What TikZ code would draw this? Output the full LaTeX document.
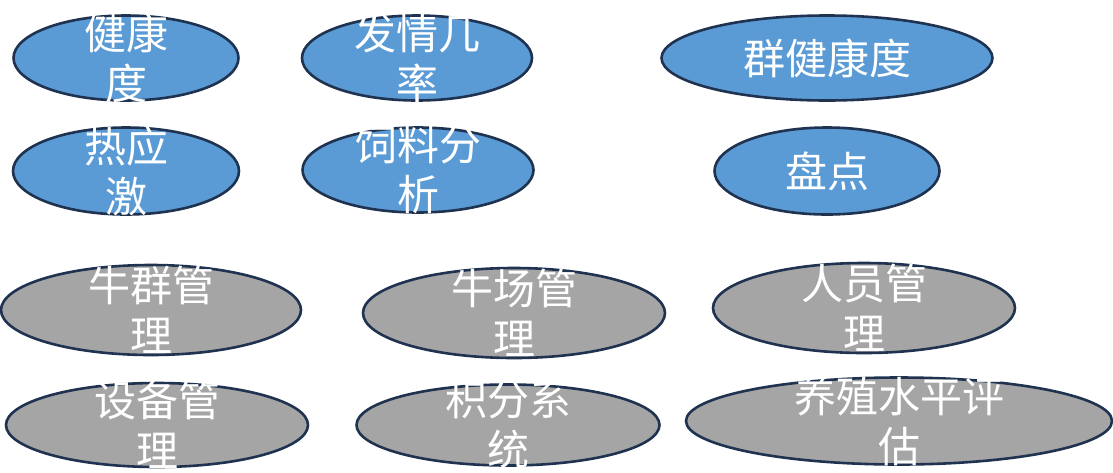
\documentclass[tikz,border=0pt]{standalone}
\usepackage{fontspec}
\newfontfamily\cjk{Noto Sans CJK SC}
\usetikzlibrary{shapes.geometric}
\definecolor{ellblue}{HTML}{5B9BD5}
\definecolor{ellgray}{HTML}{A5A5A5}
\definecolor{ellline}{HTML}{1F3350}
\tikzset{
  x=1pt, y=1pt,
  ellbase/.style={ellipse, draw=ellline, line width=2.6pt, inner sep=0pt},
  blueell/.style={ellbase, fill=ellblue},
  grayell/.style={ellbase, fill=ellgray},
  lbl/.style={text=white, align=center, inner sep=0pt, font=\cjk\fontsize{42}{50}\selectfont},
}
\begin{document}
\begin{tikzpicture}
\useasboundingbox (0,0) rectangle (1113,-472);
% row 1
\node[blueell, minimum width=225pt, minimum height=85pt] (e1) at (126,-58) {};
\node[lbl] (t1) at (e1.center) {健康\\度};
\node[blueell, minimum width=230pt, minimum height=85pt] (e2) at (417,-58) {};
\node[lbl] (t2) at (e2.center) {发情几\\率};
\node[blueell, minimum width=331pt, minimum height=85pt] (e3) at (827,-58) {};
\node[lbl] (t3) at (e3.center) {群健康度};
% row 2
\node[blueell, minimum width=226pt, minimum height=87pt] (e4) at (126,-171) {};
\node[lbl] (t4) at (e4.center) {热应\\激};
\node[blueell, minimum width=231pt, minimum height=85pt] (e5) at (418,-170) {};
\node[lbl] (t5) at (e5.center) {饲料分\\析};
\node[blueell, minimum width=225pt, minimum height=87pt] (e6) at (827,-171) {};
\node[lbl] (t6) at (e6.center) {盘点};
% row 3
\node[grayell, minimum width=300pt, minimum height=90pt] (e7) at (151,-310) {};
\node[lbl] (t7) at (e7.center) {牛群管\\理};
\node[grayell, minimum width=302pt, minimum height=90pt] (e8) at (514,-313) {};
\node[lbl] (t8) at (e8.center) {牛场管\\理};
\node[grayell, minimum width=302pt, minimum height=90pt] (e9) at (864,-308) {};
\node[lbl] (t9) at (e9.center) {人员管\\理};
% row 4
\node[grayell, minimum width=302pt, minimum height=84pt] (e10) at (157,-425) {};
\node[lbl] (t10) at (e10.center) {设备管\\理};
\node[grayell, minimum width=303pt, minimum height=81pt] (e11) at (508,-425) {};
\node[lbl] (t11) at (e11.center) {积分系\\统};
\node[grayell, minimum width=426pt, minimum height=87pt] (e12) at (899,-421) {};
\node[lbl] (t12) at (e12.center) {养殖水平评\\估};
\end{tikzpicture}
\end{document}
